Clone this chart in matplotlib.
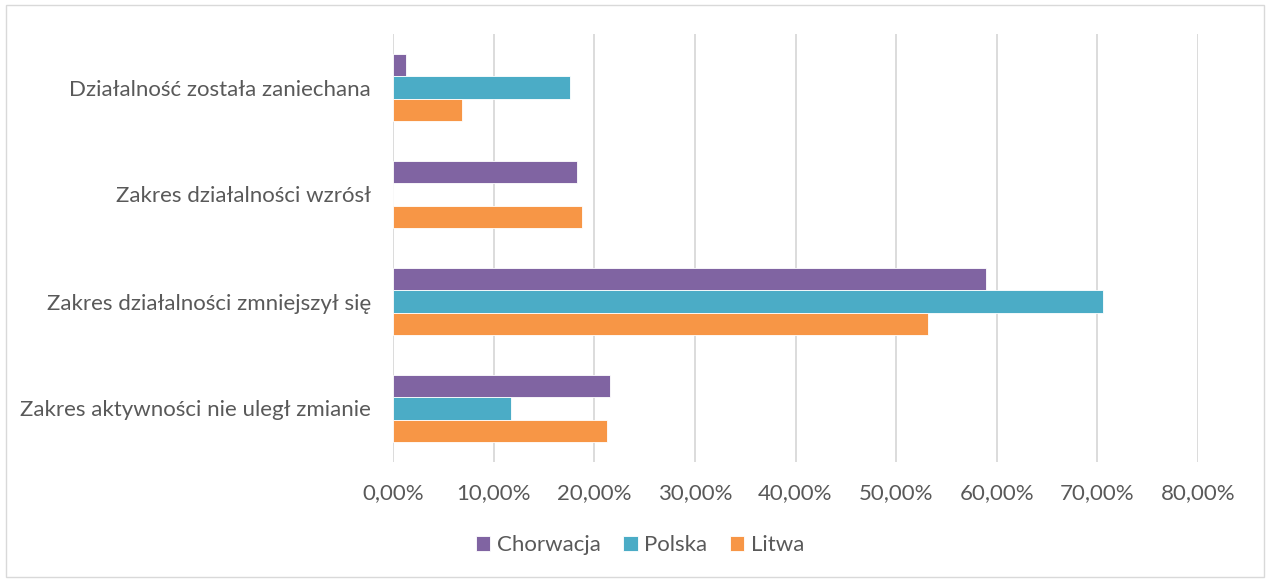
import numpy as np
import matplotlib
matplotlib.use('Agg')
import matplotlib.pyplot as plt
from matplotlib.patches import Rectangle

plt.rcParams['font.family'] = ['Lato', 'DejaVu Sans']

# ------ data ------
categories = ['Działalność została zaniechana', 'Zakres działalności wzrósł',
              'Zakres działalności zmniejszył się', 'Zakres aktywności nie uległ zmianie']
chorwacja = [1.25, 18.3, 58.9, 21.6]
polska = [17.6, 0.0, 70.6, 11.75]
litwa = [6.9, 18.8, 53.2, 21.3]
series_names = ['Chorwacja', 'Polska', 'Litwa']
colors = ['#8064a2', '#4bacc6', '#f79646']
xticks = np.arange(0, 81, 10)
tick_labels = ['%d,00%%' % t for t in xticks]

text_col = '#595959'

fig = plt.figure(figsize=(12.7, 5.81), dpi=100)
ax = fig.add_axes([393 / 1270, 1 - 462 / 581, (1198 - 393) / 1270, (462 - 34) / 581])

y = np.arange(len(categories))
h = 0.207
for i, (vals, name, c) in enumerate(zip([chorwacja, polska, litwa], series_names, colors)):
    ax.barh(y + (i - 1) * h, vals, height=h, color=c, label=name,
            edgecolor='white', linewidth=0.6, zorder=3)

ax.set_ylim(len(categories) - 0.5, -0.5)
ax.set_xlim(0, 80)
ax.set_xticks(xticks)
ax.set_xticklabels(tick_labels)
ax.set_yticks(y)
ax.set_yticklabels(categories)
ax.tick_params(axis='both', length=0, labelsize=16, colors=text_col)
ax.tick_params(axis='y', pad=16)
ax.tick_params(axis='x', pad=15)
ax.grid(axis='x', color='#d9d9d9', linewidth=1.3, zorder=0)
for s in ax.spines.values():
    s.set_visible(False)

leg = fig.legend(loc='center', bbox_to_anchor=(640 / 1270, 1 - 545 / 581), ncol=3,
                 frameon=False, fontsize=16, handlelength=0.65, handleheight=0.65,
                 handletextpad=0.3, columnspacing=1.0)
for t in leg.get_texts():
    t.set_color(text_col)

fig.patches.append(Rectangle((6 / 1270, 4 / 581), 1258 / 1270, 572 / 581,
                             transform=fig.transFigure, fill=False,
                             edgecolor='#d9d9d9', linewidth=1))

fig.savefig('out.png', dpi=100)
